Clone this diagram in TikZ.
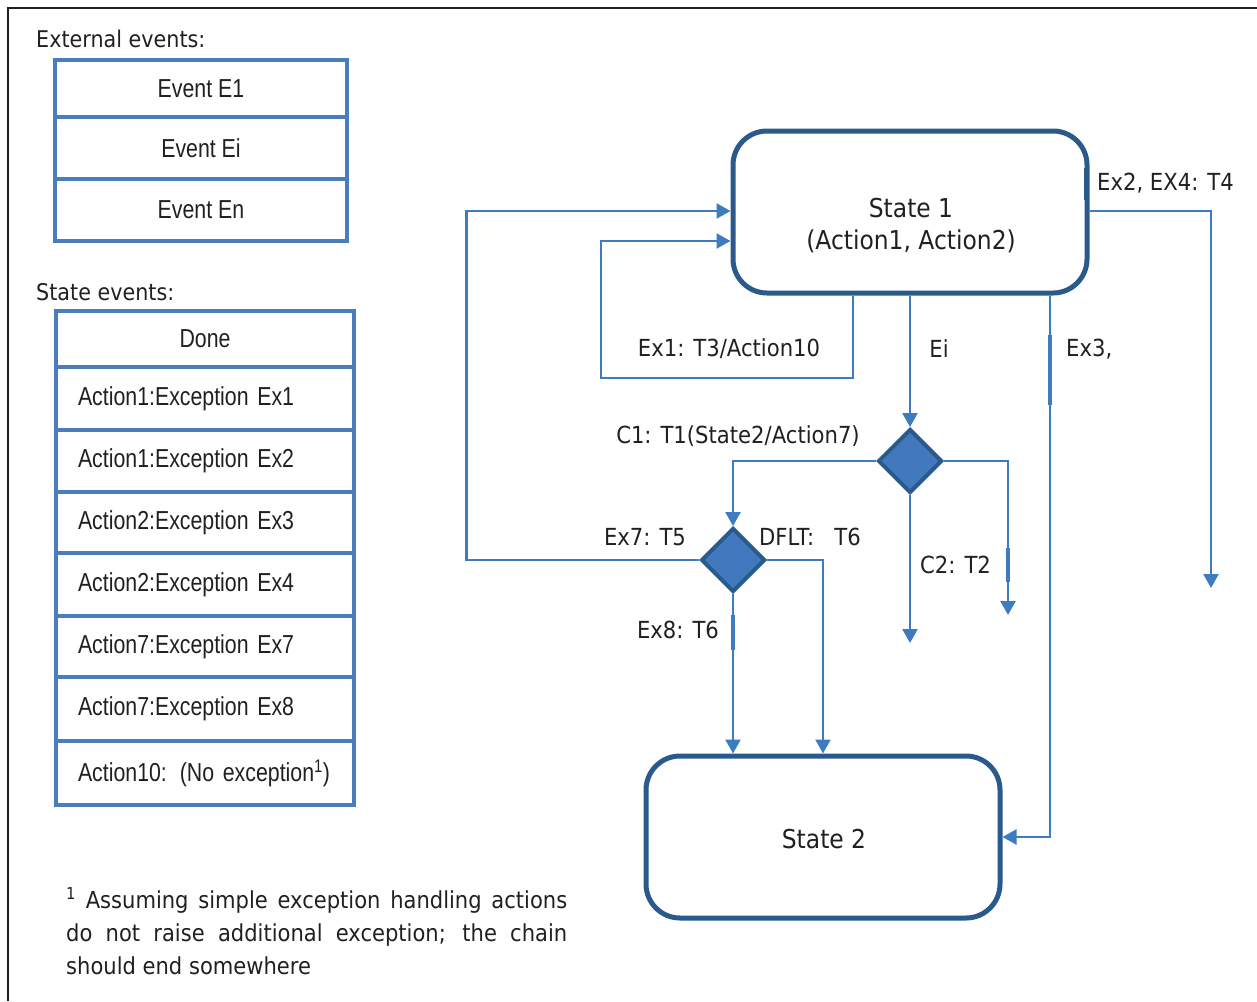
\documentclass[tikz,border=0pt]{standalone}
\usepackage{fontspec}
\setmainfont{DejaVu Sans}[FakeStretch=0.9]
\newfontfamily\narrowfont{Liberation Sans}[FakeStretch=0.82]
\usetikzlibrary{shapes.geometric,arrows.meta,calc}

\definecolor{tblblue}{HTML}{4A7EBB}
\definecolor{linkblue}{HTML}{3E7CC0}
\definecolor{statedark}{HTML}{2A5A8C}
\definecolor{diafill}{HTML}{4279BE}
\definecolor{ink}{HTML}{231F20}

\tikzset{
  state/.style={draw=statedark, line width=5pt, rounded corners=34pt,
    minimum width=354pt, minimum height=162pt, inner sep=0pt},
  statetext/.style={align=center, font=\fontsize{26}{32}\selectfont, text=ink, inner sep=0pt},
  choice/.style={diamond, draw=statedark, fill=diafill, line width=4pt,
    minimum width=64pt, minimum height=64pt, inner sep=0pt},
  conn/.style={draw=linkblue, line width=2.5pt},
  arr/.style={-{Triangle[width=15pt,length=14pt]}},
  tick/.style={draw=linkblue, line width=4.5pt},
  lbl/.style={font=\fontsize{23.5}{28}\selectfont, text=ink, inner sep=0pt},
  head/.style={font=\fontsize{23}{28}\selectfont, text=ink, inner sep=0pt, anchor=west},
  rowbox/.style={draw=tblblue, line width=4pt, font=\narrowfont\fontsize{26}{30}\selectfont,
    text=ink, inner sep=0pt},
  extrow/.style={rowbox, minimum width=292pt, align=center},
  strow/.style={rowbox, inner xsep=22pt, text width=254pt, align=left},
}

\begin{document}
\begin{tikzpicture}[x=1pt,y=-1pt]
\useasboundingbox (0,0) rectangle (1257,1001);

% outer frame
\draw[ink, line width=2pt] (1257,8) -- (8,8) -- (8,1001);

% external events table
\node[head] (exth) at (36,39) {External events:};
\node[extrow, minimum height=57pt] (e1) at (201,88.5) {Event E1};
\node[extrow, minimum height=62pt] (e2) at (201,148) {Event Ei};
\node[extrow, minimum height=62pt] (e3) at (201,210) {Event En};

% state events table
\node[head] (sth) at (36,292) {State events:};
\node[strow, minimum height=56pt, align=center] (r0) at (205,339) {Done};
\node[strow, minimum height=63pt] (r1) at (205,398.5) {Action1:Exception Ex1};
\node[strow, minimum height=62pt] (r2) at (205,461) {Action1:Exception Ex2};
\node[strow, minimum height=61pt] (r3) at (205,522.5) {Action2:Exception Ex3};
\node[strow, minimum height=63pt] (r4) at (205,584.5) {Action2:Exception Ex4};
\node[strow, minimum height=61pt] (r5) at (205,646.5) {Action7:Exception Ex7};
\node[strow, minimum height=64pt] (r6) at (205,709) {Action7:Exception Ex8};
\node[strow, minimum height=64pt] (r7) at (205,773) {Action10: (No exception\textsuperscript{1})};

% footnote
\node[lbl, anchor=north west, text width=501pt, align=justify,
      font=\fontsize{23.4}{33}\selectfont] (fn) at (66,887)
  {\textsuperscript{1} Assuming simple exception handling actions\linebreak
   do not raise additional exception; the chain\linebreak
   should end somewhere};

% states and choice points
\node[state] (s1) at (910,212) {};
\node[statetext] (s1t) at (911,226) {State 1\\(Action1, Action2)};
\node[state] (s2) at (823,837) {};
\node[statetext] (s2t) at (824,839) {State 2};
\node[choice] (d1) at (910,461) {};
\node[choice] (d2) at (733,560) {};

% helper columns and free ends
\coordinate (colA) at (853,0);
\coordinate (colE) at (1050,0);
\coordinate (colF) at (823,0);
\coordinate (ex1c) at (601,378);
\coordinate (c5) at (910,643);
\coordinate (c6) at (1008,615);
\coordinate (c7) at (1211,588);

% transitions
\draw[conn,arr] (s1.south -| colA) |- (ex1c) |- ($(s1.west)+(0,29)$);
\draw[conn,arr] (d2.west) -| ($(s1.west)+(-264,-1)$) -- ($(s1.west)+(0,-1)$);
\draw[conn,arr] (s1.south) -- (d1.north);
\draw[conn,arr] (d1.west) -| (d2.north);
\draw[conn,arr] (d1.south) -- (c5);
\draw[conn,arr] (d1.east) -| (c6);
\draw[conn,arr] ($(s1.east)+(0,-1)$) -| (c7);
\draw[conn,arr] (s1.south -| colE) |- (s2.east);
\draw[conn,arr] (d2.south) -- (d2.south |- s2.north);
\draw[conn,arr] (d2.east) -| (s2.north -| colF);

% short heavier strokes on some lines
\draw[draw=statedark, line width=5pt] (1086,168) -- (1086,200);
\draw[tick] (1050,335) -- (1050,405);
\draw[tick] (1008,548) -- (1008,582);
\draw[tick] (733,615) -- (733,650);

% transition labels
\node[lbl] (lex1) at (729,349) {Ex1: T3/Action10};
\node[lbl] (lei) at (939,349) {Ei};
\node[lbl, anchor=west] (lex3) at (1066,349) {Ex3,};
\node[lbl, anchor=west] (lex24) at (1097,183) {Ex2, EX4: T4};
\node[lbl] (lc1) at (738,436) {C1: T1(State2/Action7)};
\node[lbl] (lex7) at (645,537) {Ex7: T5};
\node[lbl, anchor=west] (ldflt) at (759,537) {DFLT:\ \ \ T6};
\node[lbl, anchor=west] (lc2) at (920,565) {C2: T2};
\node[lbl] (lex8) at (678,630) {Ex8: T6};
\end{tikzpicture}
\end{document}
